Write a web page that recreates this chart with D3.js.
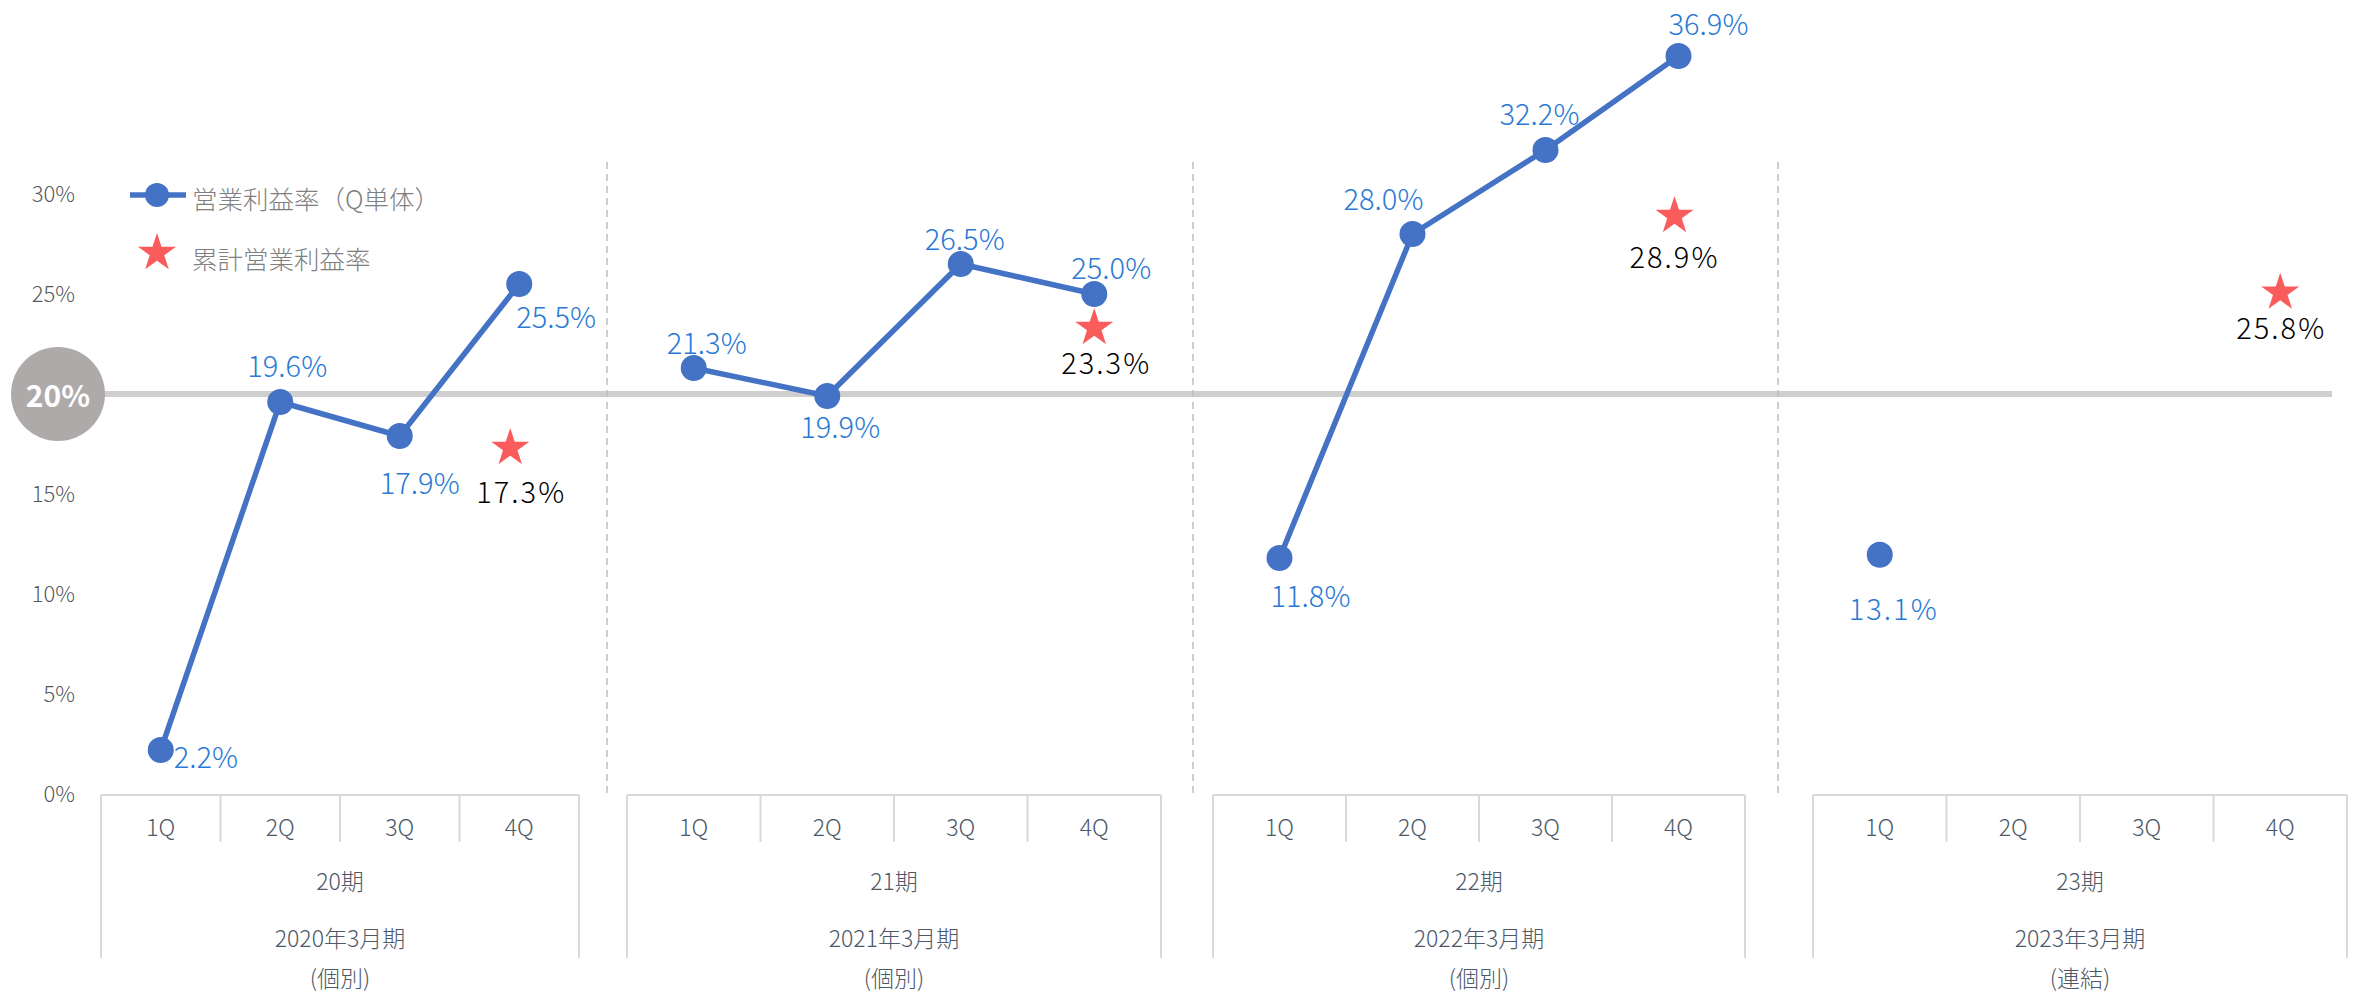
<!DOCTYPE html>
<html>
<head>
<meta charset="utf-8">
<script src="https://cdn.jsdelivr.net/npm/d3@7"></script>
<style>
  body { margin: 0; background: #fff; }
  text { font-family: "Noto Sans CJK JP", "Noto Sans", sans-serif; font-weight: 300; }
</style>
</head>
<body>
<svg id="chart" width="2359" height="995"></svg>
<script>
// data
const quarters = ["1Q", "2Q", "3Q", "4Q"];
const periods = ["20期", "21期", "22期", "23期"];
const fiscalYears = ["2020年3月期", "2021年3月期", "2022年3月期", "2023年3月期"];
const scopes = ["(個別)", "(個別)", "(個別)", "(連結)"];
const quarterlyMargin = [
  [2.2, 19.6, 17.9, 25.5],
  [21.3, 19.9, 26.5, 25.0],
  [11.8, 28.0, 32.2, 36.9],
  [13.1, null, null, null]
];
const cumulativeMargin = [17.3, 23.3, 28.9, 25.8];
const yTicks = [0, 5, 10, 15, 20, 25, 30];
const legendNames = ["営業利益率（Q単体）", "累計営業利益率"];

// layout
const W = 2359, H = 995;
const panels = [[101, 579], [627, 1161], [1213, 1745], [1813, 2347]];
const dividers = [607, 1193, 1778];
// label nudges [dx, dy] picked to sit like the original
const qLabelShift = [
  [[13, 5, "start"], [7, -38], [20, 45], [-3, 31, "start"]],
  [[13, -27], [13, 29], [4, -27], [17, -28]],
  [[31, 36], [-29, -37], [-6, -38], [30, -34]],
  [[14, 52]]
];
const starShift = [-9, 0, -4, 0];
const cLabelShift = [[11, 42], [12, 33], [0, 39], [1, 33]];

const blue = "#4472c4", labelBlue = "#2a7ad4", red = "#fa5c5c";

const svg = d3.select("#chart");

const y = d3.scaleLinear().domain([0, 30]).range([794, 194]);
// the 23期 block was a separate plot in the source, slightly different scale
const y4 = d3.scaleLinear().domain([0, 30]).range([825, 206]);
const yFor = p => p === 3 ? y4 : y;

// 20% reference line
svg.append("line")
  .attr("x1", 100).attr("x2", 2332)
  .attr("y1", y(20)).attr("y2", y(20))
  .attr("stroke", "#cfcfcf").attr("stroke-width", 6);

// dashed period dividers
svg.selectAll(".divider").data(dividers).join("line")
  .attr("class", "divider")
  .attr("x1", d => d).attr("x2", d => d)
  .attr("y1", 162).attr("y2", 796)
  .attr("stroke", "#bfbfbf").attr("stroke-width", 1.5)
  .attr("stroke-dasharray", "7,5");

// y axis
const yAxis = d3.axisLeft(y).tickValues(yTicks.filter(t => t !== 20))
  .tickSize(0).tickPadding(8).tickFormat(d => d + "%");
const ga = svg.append("g").attr("transform", "translate(83,0)").call(yAxis);
ga.select(".domain").remove();
ga.selectAll("text").attr("font-size", 22).attr("fill", "#595959")
  .attr("font-family", "'Noto Sans CJK JP', sans-serif");

// highlighted 20% badge
svg.append("circle").attr("cx", 58).attr("cy", y(20)).attr("r", 47).attr("fill", "#aeaaaa");
svg.append("text").attr("x", 58).attr("y", y(20))
  .attr("text-anchor", "middle").attr("dominant-baseline", "central")
  .attr("font-size", 30).style("font-weight", "bold").attr("fill", "#fff")
  .text("20%");

// category boxes
const boxTop = 795, rowEnd = 842, boxEnd = 958;
const xScales = panels.map(r => d3.scaleBand().domain(quarters).range(r));

panels.forEach((r, p) => {
  const x = xScales[p];
  const g = svg.append("g").attr("class", "cat");
  g.append("line").attr("x1", r[0]).attr("x2", r[1]).attr("y1", boxTop).attr("y2", boxTop)
    .attr("stroke", "#d9d9d9").attr("stroke-width", 2);
  g.selectAll(".outer").data(r).join("line")
    .attr("x1", d => d).attr("x2", d => d).attr("y1", boxTop).attr("y2", boxEnd)
    .attr("stroke", "#d9d9d9").attr("stroke-width", 2);
  g.selectAll(".inner").data(quarters.slice(1)).join("line")
    .attr("x1", d => x(d)).attr("x2", d => x(d)).attr("y1", boxTop).attr("y2", rowEnd)
    .attr("stroke", "#d9d9d9").attr("stroke-width", 2);
  g.selectAll(".q").data(quarters).join("text")
    .attr("x", d => x(d) + x.bandwidth() / 2).attr("y", 826)
    .attr("text-anchor", "middle").attr("dominant-baseline", "central")
    .attr("font-size", 23).attr("fill", "#4d5868").text(d => d);
  const mid = (r[0] + r[1]) / 2;
  [[periods[p], 880], [fiscalYears[p], 937], [scopes[p], 977]].forEach(([t, yy]) => {
    g.append("text").attr("x", mid).attr("y", yy)
      .attr("text-anchor", "middle").attr("dominant-baseline", "central")
      .attr("font-size", 23).attr("fill", "#4d5868").text(t);
  });
});

// quarterly lines + dots
const line = d3.line().defined(d => d.v != null).x(d => d.x).y(d => d.y);
quarterlyMargin.forEach((vals, p) => {
  const x = xScales[p], yy = yFor(p);
  const pts = vals.map((v, i) => ({
    v, i, x: x(quarters[i]) + x.bandwidth() / 2, y: v == null ? 0 : yy(v)
  }));
  svg.append("path").datum(pts).attr("d", line)
    .attr("fill", "none").attr("stroke", blue).attr("stroke-width", 5.5)
    .attr("stroke-linejoin", "round");
  const real = pts.filter(d => d.v != null);
  svg.selectAll(null).data(real).join("circle")
    .attr("cx", d => d.x).attr("cy", d => d.y).attr("r", 13).attr("fill", blue);
  svg.selectAll(null).data(real).join("text")
    .attr("x", d => d.x + qLabelShift[p][d.i][0])
    .attr("y", d => d.y + qLabelShift[p][d.i][1])
    .attr("text-anchor", d => qLabelShift[p][d.i][2] || "middle")
    .attr("dominant-baseline", "central")
    .attr("font-size", 29).attr("fill", labelBlue)
    .attr("letter-spacing", p === 3 ? 2 : 0)
    .text(d => d.v.toFixed(1) + "%");
});

// cumulative stars
const star = d3.symbol(d3.symbolStar, 450);
cumulativeMargin.forEach((v, p) => {
  const x = xScales[p], cx = x("4Q") + x.bandwidth() / 2 + starShift[p], cy = yFor(p)(v);
  svg.append("path").attr("d", star()).attr("fill", red)
    .attr("transform", `translate(${cx},${cy})`);
  svg.append("text")
    .attr("x", cx + cLabelShift[p][0]).attr("y", cy + cLabelShift[p][1])
    .attr("text-anchor", "middle").attr("dominant-baseline", "central")
    .attr("font-size", 29).attr("fill", "#000").attr("letter-spacing", 2)
    .text(v.toFixed(1) + "%");
});

// legend
const lg = svg.append("g");
lg.append("line").attr("x1", 130).attr("x2", 186).attr("y1", 195).attr("y2", 195)
  .attr("stroke", blue).attr("stroke-width", 5.5);
lg.append("circle").attr("cx", 157).attr("cy", 195).attr("r", 12).attr("fill", blue);
lg.append("path").attr("d", star()).attr("fill", red).attr("transform", "translate(157,253)");
lg.selectAll(".lt").data(legendNames).join("text")
  .attr("x", 192).attr("y", (d, i) => i === 0 ? 197 : 257)
  .attr("dominant-baseline", "central")
  .attr("font-size", 25.5).attr("fill", "#7f7f7f").text(d => d);
</script>
</body>
</html>
